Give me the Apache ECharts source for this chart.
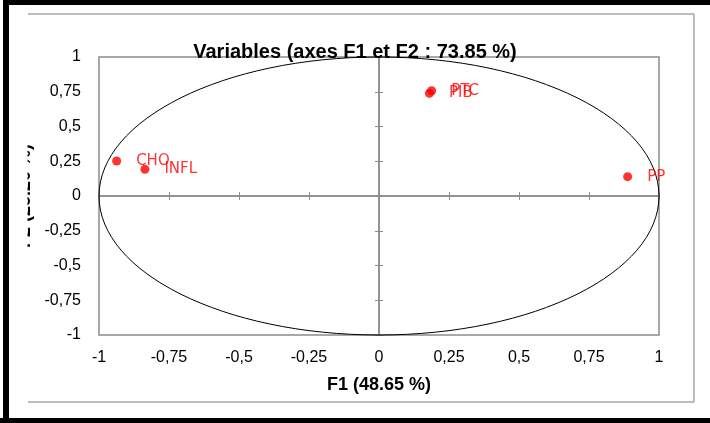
<!DOCTYPE html>
<html>
<head>
<meta charset="utf-8">
<script src="https://cdn.jsdelivr.net/npm/echarts@6/dist/echarts.min.js"></script>
<style>
html,body{margin:0;padding:0;background:#fff;}
#c{width:710px;height:423px;}
</style>
</head>
<body>
<div id="c"></div>
<script>
const variableNames = ['CHO', 'INFL', 'PTC', 'PIB', 'PP'];
const f1Values = [-0.937, -0.836, 0.188, 0.180, 0.888];
const f2Values = [0.252, 0.192, 0.757, 0.739, 0.139];
const axisTicks = [-1, -0.75, -0.5, -0.25, 0, 0.25, 0.5, 0.75, 1];
const circleData = [[0, 0, 1]];

const titleText = 'Variables (axes F1 et F2 : 73.85 %)';
const xName = 'F1 (48.65 %)';
const yName = 'F2 (25.20 %)';

const gray = '#8c8c8c';
const fmt = v => String(v).replace('.', ',');
const labelFont = 'Liberation Sans';
const boldFont = 'Liberation Sans';

const base = {
  type: 'value', min: axisTicks[0], max: axisTicks[axisTicks.length - 1], interval: 0.25,
  splitLine: { show: false }
};
const zeroLine = { show: true, onZero: true, lineStyle: { color: gray, width: 1.5 } };
const tick = { show: true, length: 4, lineStyle: { color: gray, width: 1 } };

const chart = echarts.init(document.getElementById('c'));
chart.setOption({
  backgroundColor: '#fff',
  animation: false,
  title: {
    text: titleText, left: 350, top: 37, textAlign: 'center',
    textStyle: { fontFamily: boldFont, fontWeight: 'bold', fontSize: 20, color: '#000' }
  },
  grid: { left: 99, top: 57, right: 51, bottom: 88, show: true, borderColor: gray, borderWidth: 1.5, backgroundColor: 'transparent' },
  xAxis: [
    Object.assign({}, base, {
      position: 'bottom', axisLine: { show: false, onZero: false }, axisTick: { show: false },
      axisLabel: { formatter: fmt, margin: 15, fontFamily: labelFont, fontSize: 16, color: '#000' },
      name: xName, nameLocation: 'middle', nameGap: 41,
      nameTextStyle: { fontFamily: boldFont, fontWeight: 'bold', fontSize: 18, color: '#000' }
    }),
    Object.assign({}, base, { position: 'bottom', axisLine: zeroLine, axisTick: tick, axisLabel: { show: false } }),
    Object.assign({}, base, { position: 'top', axisLine: zeroLine, axisTick: tick, axisLabel: { show: false } })
  ],
  yAxis: [
    Object.assign({}, base, {
      position: 'left', axisLine: { show: false, onZero: false }, axisTick: { show: false },
      axisLabel: { formatter: fmt, margin: 18, fontFamily: labelFont, fontSize: 16, color: '#000' },
      name: yName, nameLocation: 'middle', nameGap: 62, nameRotate: 90,
      nameTextStyle: { fontFamily: boldFont, fontWeight: 'bold', fontSize: 18, color: '#000' }
    }),
    Object.assign({}, base, { position: 'left', axisLine: zeroLine, axisTick: tick, axisLabel: { show: false } }),
    Object.assign({}, base, { position: 'right', axisLine: zeroLine, axisTick: tick, axisLabel: { show: false } })
  ],
  series: [
    {
      type: 'custom', xAxisIndex: 0, yAxisIndex: 0, data: circleData, silent: true, clip: false,
      encode: { x: 0, y: 1 }, z: 1,
      renderItem: function (params, api) {
        const r = api.value(2);
        const c = api.coord([api.value(0), api.value(1)]);
        const px = api.coord([api.value(0) + r, api.value(1)]);
        const py = api.coord([api.value(0), api.value(1) + r]);
        return {
          type: 'ellipse',
          shape: { cx: c[0], cy: c[1], rx: px[0] - c[0], ry: c[1] - py[1] },
          style: { fill: 'none', stroke: '#000', lineWidth: 1 }
        };
      }
    },
    {
      type: 'scatter', xAxisIndex: 0, yAxisIndex: 0, z: 3,
      symbolSize: 9, itemStyle: { color: '#ff0000' },
      data: variableNames.map((n, i) => ({ name: n, value: [f1Values[i], f2Values[i]] })),
      label: {
        show: true, position: 'right', distance: 15, formatter: '{b}',
        color: '#ff0000', fontFamily: 'DejaVu Sans', fontSize: 15
      }
    }
  ],
  graphic: [
    { type: 'rect', z: 100, shape: { x: 9, y: 60, width: 18.5, height: 280 }, style: { fill: '#fff' } },
    { type: 'line', z: 100, shape: { x1: 28, y1: 14, x2: 694, y2: 14 }, style: { stroke: '#a6a6a6', lineWidth: 1.5 } },
    { type: 'line', z: 100, shape: { x1: 694, y1: 14, x2: 694, y2: 402 }, style: { stroke: '#a6a6a6', lineWidth: 1.5 } },
    { type: 'line', z: 100, shape: { x1: 28, y1: 402, x2: 694, y2: 402 }, style: { stroke: '#a6a6a6', lineWidth: 1.5 } },
    { type: 'rect', z: 101, shape: { x: 3, y: 0, width: 707, height: 5 }, style: { fill: '#000' } },
    { type: 'rect', z: 101, shape: { x: 3, y: 0, width: 6, height: 423 }, style: { fill: '#000' } },
    { type: 'rect', z: 101, shape: { x: 0, y: 418, width: 710, height: 5 }, style: { fill: '#000' } }
  ]
});
</script>
</body>
</html>
